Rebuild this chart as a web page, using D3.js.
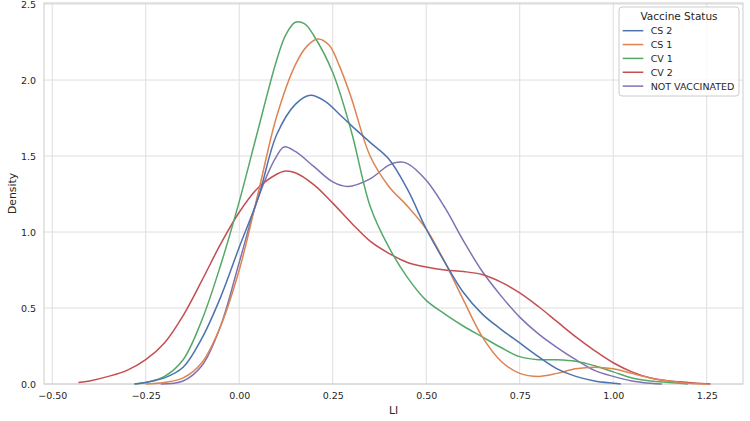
<!DOCTYPE html>
<html>
<head>
<meta charset="utf-8">
<script src="https://cdn.jsdelivr.net/npm/d3@7"></script>
<style>
	body { margin: 0; background: #fff; }
	svg { display: block; font-family: "DejaVu Sans", sans-serif; }
</style>
</head>
<body>
<svg id="chart" width="750" height="421"></svg>
<script>

// density curves: [LI, density]
var cs2 = [[-0.28,0],[-0.25,0.01],[-0.2,0.04],[-0.15,0.11],[-0.1,0.30],[-0.05,0.57],[0,0.90],[0.05,1.22],[0.1,1.64],[0.15,1.84],[0.19,1.90],[0.23,1.86],[0.27,1.77],[0.3,1.70],[0.35,1.59],[0.4,1.48],[0.45,1.28],[0.5,1.02],[0.55,0.80],[0.6,0.60],[0.65,0.46],[0.7,0.36],[0.75,0.27],[0.8,0.18],[0.85,0.10],[0.9,0.05],[0.95,0.02],[1.0,0.005],[1.02,0]];
var cs1 = [[-0.25,0],[-0.2,0.01],[-0.15,0.04],[-0.1,0.14],[-0.05,0.38],[0,0.75],[0.05,1.25],[0.1,1.76],[0.15,2.10],[0.18,2.22],[0.21,2.27],[0.24,2.23],[0.27,2.08],[0.3,1.88],[0.35,1.50],[0.4,1.30],[0.45,1.17],[0.5,1.02],[0.55,0.80],[0.6,0.55],[0.65,0.31],[0.7,0.15],[0.75,0.07],[0.8,0.05],[0.85,0.07],[0.9,0.10],[0.95,0.11],[1.0,0.10],[1.05,0.07],[1.1,0.04],[1.15,0.02],[1.2,0.005],[1.25,0]];
var cv1 = [[-0.28,0],[-0.25,0.01],[-0.2,0.05],[-0.15,0.16],[-0.1,0.42],[-0.05,0.78],[0,1.20],[0.05,1.67],[0.1,2.13],[0.125,2.30],[0.15,2.38],[0.175,2.37],[0.2,2.29],[0.25,2.05],[0.3,1.66],[0.35,1.17],[0.4,0.90],[0.45,0.70],[0.5,0.55],[0.55,0.46],[0.6,0.38],[0.65,0.31],[0.7,0.24],[0.75,0.18],[0.8,0.16],[0.85,0.16],[0.9,0.15],[0.95,0.12],[1.0,0.08],[1.05,0.04],[1.1,0.02],[1.15,0.01],[1.2,0]];
var cv2 = [[-0.43,0.01],[-0.4,0.02],[-0.35,0.05],[-0.3,0.09],[-0.25,0.16],[-0.2,0.27],[-0.15,0.45],[-0.1,0.68],[-0.05,0.92],[0,1.13],[0.05,1.29],[0.1,1.38],[0.12,1.40],[0.15,1.39],[0.2,1.31],[0.25,1.19],[0.3,1.06],[0.35,0.94],[0.4,0.86],[0.45,0.80],[0.5,0.77],[0.55,0.75],[0.6,0.74],[0.65,0.72],[0.7,0.67],[0.75,0.60],[0.8,0.51],[0.85,0.41],[0.9,0.31],[0.95,0.22],[1.0,0.14],[1.05,0.08],[1.1,0.04],[1.15,0.02],[1.2,0.01],[1.26,0]];
var notVaccinated = [[-0.21,0],[-0.15,0.02],[-0.1,0.12],[-0.05,0.38],[0,0.80],[0.05,1.22],[0.1,1.50],[0.12,1.56],[0.15,1.53],[0.2,1.43],[0.25,1.33],[0.29,1.30],[0.35,1.35],[0.4,1.44],[0.43,1.46],[0.45,1.45],[0.5,1.34],[0.55,1.16],[0.6,0.94],[0.65,0.74],[0.7,0.58],[0.75,0.44],[0.8,0.33],[0.85,0.24],[0.9,0.16],[0.95,0.09],[1.0,0.05],[1.05,0.02],[1.1,0.005],[1.13,0]];

var statusNames = ["CS 2", "CS 1", "CV 1", "CV 2", "NOT VACCINATED"];
var statusValues = [cs2, cs1, cv1, cv2, notVaccinated];
var statusColors = ["#4c72b0", "#dd8452", "#55a868", "#c44e52", "#8172b3"];

var xTicks = [-0.5, -0.25, 0, 0.25, 0.5, 0.75, 1.0, 1.25];
var yTicks = [0, 0.5, 1.0, 1.5, 2.0, 2.5];

var svg = d3.select("#chart");
var plotLeft = 44, plotRight = 743, plotTop = 3, plotBottom = 384;

var x = d3.scaleLinear().domain([-0.522, 1.347]).range([plotLeft, plotRight]);
var y = d3.scaleLinear().domain([0, 2.507]).range([plotBottom, plotTop]);

// grid
var grid = svg.append("g");
grid.selectAll(".gx").data(xTicks).enter().append("line")
	.attr("x1", function(d){ return x(d); })
	.attr("x2", function(d){ return x(d); })
	.attr("y1", plotTop).attr("y2", plotBottom)
	.attr("stroke", "#dedede").attr("stroke-width", 1);
grid.selectAll(".gy").data(yTicks).enter().append("line")
	.attr("y1", function(d){ return y(d); })
	.attr("y2", function(d){ return y(d); })
	.attr("x1", plotLeft).attr("x2", plotRight)
	.attr("stroke", "#dedede").attr("stroke-width", 1);

// axes, tick marks hidden like seaborn whitegrid
svg.append("g")
	.attr("transform", "translate(0," + plotBottom + ")")
	.call(d3.axisBottom(x).tickValues(xTicks).tickSize(0).tickPadding(8)
		.tickFormat(function(d){ return d3.format(".2f")(d).replace("-", "\u2212"); }));
svg.append("g")
	.attr("transform", "translate(" + plotLeft + ",0)")
	.call(d3.axisLeft(y).tickValues(yTicks).tickSize(0).tickPadding(8).tickFormat(d3.format(".1f")));

svg.selectAll(".domain").remove();
svg.selectAll(".tick text").attr("fill", "#262626").style("font-size", "9.5px")
	.style("font-family", "DejaVu Sans, sans-serif");

// frame
svg.append("rect")
	.attr("x", plotLeft).attr("y", plotTop)
	.attr("width", plotRight - plotLeft).attr("height", plotBottom - plotTop)
	.attr("fill", "none").attr("stroke", "#cccccc").attr("stroke-width", 1);

// density lines, last level drawn first
var line = d3.line()
	.x(function(d){ return x(d[0]); })
	.y(function(d){ return y(d[1]); })
	.curve(d3.curveCatmullRom.alpha(0.5));

var order = d3.range(statusNames.length).reverse();
svg.append("g").selectAll("path").data(order).enter().append("path")
	.attr("d", function(i){ return line(statusValues[i]); })
	.attr("fill", "none")
	.attr("stroke", function(i){ return statusColors[i]; })
	.attr("stroke-width", 1.5);

// labels
svg.append("text")
	.attr("x", (plotLeft + plotRight) / 2).attr("y", 414)
	.attr("text-anchor", "middle").attr("fill", "#262626")
	.style("font-size", "10.8px").text("LI");
svg.append("text")
	.attr("transform", "translate(16," + ((plotTop + plotBottom) / 2) + ") rotate(-90)")
	.attr("text-anchor", "middle").attr("fill", "#262626")
	.style("font-size", "10.8px").text("Density");

// legend
var legend = svg.append("g").attr("transform", "translate(619,7)");
legend.append("rect")
	.attr("width", 120).attr("height", 89).attr("rx", 3)
	.attr("fill", "#fff").attr("fill-opacity", 0.8)
	.attr("stroke", "#cccccc").attr("stroke-width", 1);
legend.append("text")
	.attr("x", 60).attr("y", 12.6)
	.attr("text-anchor", "middle").attr("fill", "#262626")
	.style("font-size", "10.5px").text("Vaccine Status");

var item = legend.selectAll(".item").data(statusNames).enter().append("g")
	.attr("transform", function(d, i){ return "translate(0," + (23.7 + i * 13.85) + ")"; });
item.append("line")
	.attr("x1", 3.7).attr("x2", 24.3)
	.attr("stroke", function(d, i){ return statusColors[i]; })
	.attr("stroke-width", 1.5);
item.append("text")
	.attr("x", 31.7).attr("y", 3.4)
	.attr("fill", "#262626").style("font-size", "9.5px")
	.text(function(d){ return d; });

</script>
</body>
</html>
